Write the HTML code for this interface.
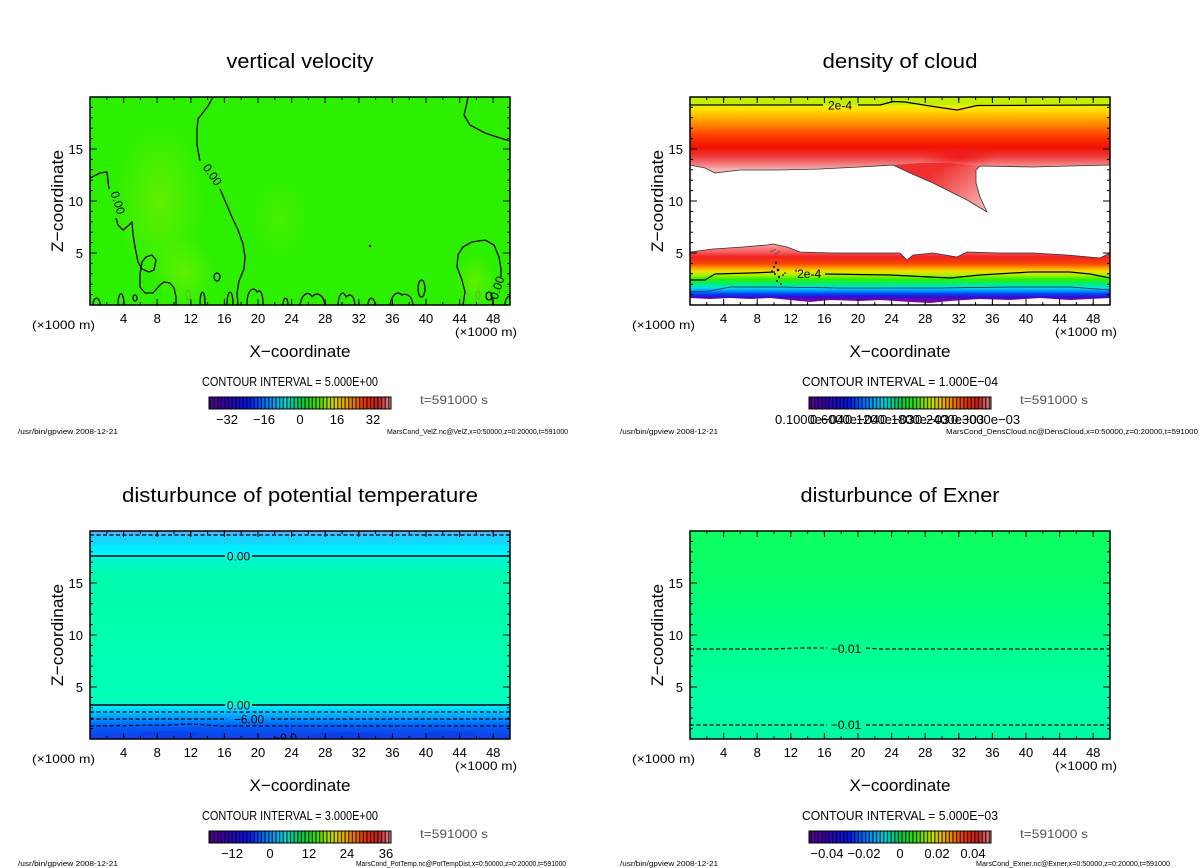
<!DOCTYPE html>
<html><head><meta charset="utf-8"><style>
html,body{margin:0;padding:0;background:#fff;}
svg{display:block;}
svg text{font-family:"Liberation Sans",sans-serif;fill:#000;}
</style></head><body>
<svg width="1200" height="868" viewBox="0 0 1200 868" xmlns="http://www.w3.org/2000/svg" font-family="'Liberation Sans', sans-serif">
<defs>
 <clipPath id="cp"><rect x="0" y="0" width="420" height="208"/></clipPath>
 <linearGradient id="rb" x1="0" y1="0" x2="1" y2="0">
  <stop offset="0" stop-color="#5a0090"/>
  <stop offset="0.1" stop-color="#3000b0"/>
  <stop offset="0.22" stop-color="#0018f0"/>
  <stop offset="0.32" stop-color="#0080ff"/>
  <stop offset="0.42" stop-color="#00d8d8"/>
  <stop offset="0.5" stop-color="#00c850"/>
  <stop offset="0.58" stop-color="#30e000"/>
  <stop offset="0.68" stop-color="#d0e000"/>
  <stop offset="0.76" stop-color="#f0a000"/>
  <stop offset="0.86" stop-color="#e83000"/>
  <stop offset="0.93" stop-color="#c02020"/>
  <stop offset="1" stop-color="#e89090"/>
 </linearGradient>
 <pattern id="st" x="0" y="0" width="3.64" height="20" patternUnits="userSpaceOnUse">
  <rect x="2.3" y="0" width="1.3" height="20" fill="#000" fill-opacity="0.7"/>
 </pattern>
 <radialGradient id="ylw"><stop offset="0" stop-color="#88f000" stop-opacity="0.55"/><stop offset="1" stop-color="#88f000" stop-opacity="0"/></radialGradient>
 <linearGradient id="ctop" gradientUnits="userSpaceOnUse" x1="0" y1="0" x2="0" y2="72">
  <stop offset="0" stop-color="#bef000"/>
  <stop offset="0.105" stop-color="#c4f000"/>
  <stop offset="0.12" stop-color="#f4f000"/>
  <stop offset="0.2" stop-color="#ffd800"/>
  <stop offset="0.36" stop-color="#ff9000"/>
  <stop offset="0.55" stop-color="#ff3800"/>
  <stop offset="0.7" stop-color="#f01000"/>
  <stop offset="0.82" stop-color="#f03838"/>
  <stop offset="0.9" stop-color="#f06868"/>
  <stop offset="0.96" stop-color="#f49090"/>
  <stop offset="1" stop-color="#f8b0b0"/>
 </linearGradient>
 <linearGradient id="tng" gradientUnits="userSpaceOnUse" x1="255" y1="66" x2="295" y2="112">
  <stop offset="0" stop-color="#f03030"/>
  <stop offset="0.5" stop-color="#f47070"/>
  <stop offset="1" stop-color="#f8b8b8"/>
 </linearGradient>
 <radialGradient id="rdip"><stop offset="0" stop-color="#f01010" stop-opacity="0.8"/><stop offset="1" stop-color="#f01010" stop-opacity="0"/></radialGradient>
 <linearGradient id="clow" gradientUnits="userSpaceOnUse" x1="0" y1="148" x2="0" y2="205">
  <stop offset="0" stop-color="#f89898"/>
  <stop offset="0.12" stop-color="#f86060"/>
  <stop offset="0.21" stop-color="#f02020"/>
  <stop offset="0.33" stop-color="#f84800"/>
  <stop offset="0.4" stop-color="#ff9800"/>
  <stop offset="0.46" stop-color="#f0e000"/>
  <stop offset="0.53" stop-color="#a8f000"/>
  <stop offset="0.6" stop-color="#30f000"/>
  <stop offset="0.68" stop-color="#00f070"/>
  <stop offset="0.75" stop-color="#00e0e0"/>
  <stop offset="0.81" stop-color="#0090ff"/>
  <stop offset="0.86" stop-color="#0040f0"/>
  <stop offset="0.91" stop-color="#3010d0"/>
  <stop offset="0.96" stop-color="#7000b0"/>
  <stop offset="1" stop-color="#8000b0"/>
 </linearGradient>
 <linearGradient id="pt" gradientUnits="userSpaceOnUse" x1="0" y1="0" x2="0" y2="208">
  <stop offset="0" stop-color="#48b8ff"/>
  <stop offset="0.02" stop-color="#48b8ff"/>
  <stop offset="0.025" stop-color="#20d0ff"/>
  <stop offset="0.06" stop-color="#10d8ff"/>
  <stop offset="0.07" stop-color="#00ecff"/>
  <stop offset="0.118" stop-color="#00f4ff"/>
  <stop offset="0.122" stop-color="#00f6d8"/>
  <stop offset="0.2" stop-color="#00fcb0"/>
  <stop offset="0.4" stop-color="#00ffac"/>
  <stop offset="0.82" stop-color="#00ffb8"/>
  <stop offset="0.835" stop-color="#00f6e0"/>
  <stop offset="0.845" stop-color="#00e8ff"/>
  <stop offset="0.87" stop-color="#00c8ff"/>
  <stop offset="0.9" stop-color="#0098ff"/>
  <stop offset="0.93" stop-color="#0068ff"/>
  <stop offset="0.96" stop-color="#0850f0"/>
  <stop offset="1" stop-color="#1040e8"/>
 </linearGradient>
 <linearGradient id="ex" gradientUnits="userSpaceOnUse" x1="0" y1="0" x2="0" y2="208">
  <stop offset="0" stop-color="#10ff60"/>
  <stop offset="0.2" stop-color="#08ff68"/>
  <stop offset="0.45" stop-color="#00ff84"/>
  <stop offset="0.65" stop-color="#00ff98"/>
  <stop offset="0.85" stop-color="#00ffaa"/>
  <stop offset="1" stop-color="#00f8a0"/>
 </linearGradient>
 <g id="ax" fill="none" stroke="#000">
  <line x1="-0.5" y1="206.5" x2="421" y2="206.5" stroke-width="3" stroke-dasharray="1 15.8"/>
  <line x1="-0.5" y1="205" x2="421" y2="205" stroke-width="6" stroke-dasharray="1 32.6"/>
  <line x1="-0.5" y1="1.5" x2="421" y2="1.5" stroke-width="3" stroke-dasharray="1 15.8"/>
  <line x1="-0.5" y1="3" x2="421" y2="3" stroke-width="6" stroke-dasharray="1 32.6"/>
  <line x1="1.5" y1="208.5" x2="1.5" y2="-1" stroke-width="3" stroke-dasharray="1 9.4"/>
  <line x1="3.5" y1="208.5" x2="3.5" y2="-1" stroke-width="7" stroke-dasharray="1 51"/>
  <line x1="418.5" y1="208.5" x2="418.5" y2="-1" stroke-width="3" stroke-dasharray="1 9.4"/>
  <line x1="416.5" y1="208.5" x2="416.5" y2="-1" stroke-width="7" stroke-dasharray="1 51"/>
  <rect x="0" y="0" width="420" height="208" stroke-width="1.5"/>
 </g>
</defs>

<!-- ============ PANEL 1: vertical velocity ============ -->
<text x="300" y="68" font-size="20" text-anchor="middle" textLength="147" lengthAdjust="spacingAndGlyphs">vertical velocity</text>
<g transform="translate(90,97)">
 <g clip-path="url(#cp)">
  <rect width="420" height="208" fill="#2cf000"/>
  <ellipse cx="70" cy="105" rx="45" ry="80" fill="url(#ylw)"/>
  <ellipse cx="95" cy="175" rx="30" ry="35" fill="url(#ylw)"/>
  <ellipse cx="190" cy="120" rx="30" ry="40" fill="url(#ylw)" opacity="0.5"/>
  <ellipse cx="385" cy="185" rx="20" ry="28" fill="url(#ylw)"/>
  <g fill="none" stroke="#000" stroke-width="1.3" stroke-linejoin="round">
   <path d="M123,0 L118,9 L108,22 L107,33 L107,48 L110,64"/>
   <path d="M130,92 L136,106 L141,118 L148,133 L153,147 L155,160 L154,172 L149,184 L147,196 L148,208"/>
   <path d="M0,81 L10,76 L17,75 L18,84 L19,92"/>
   <path d="M26,121 L28,128 L33,133 L38,129 L42,125 L43,137 L45,150 L48,165 L52,172 L59,175 L64,173 L66,163 L62,158 L56,160 L52,165 L50,177 L50,190 L55,196 L63,196 L70,188 L74,185 L80,186 L84,191 L86,200 L86,208"/>
   <path d="M378,0 L376,10 L374,18 L380,28 L395,36 L410,41 L420,44"/>
   <path d="M373,208 L375,195 L372,183 L367,170 L368,158 L373,150 L382,145 L395,143 L404,148 L409,160 L411,172 L411,180"/>
   <path d="M402,200 L403,208"/>
   <path d="M3,208 C3,199 10,199 10,208"/>
   <path d="M28,208 C28,193 34,193 34,208"/>
   <ellipse cx="45" cy="201" rx="2" ry="3"/>
   <path d="M110,208 C110,191 115,191 115,208"/>
   <ellipse cx="127" cy="180" rx="3" ry="4"/>
   <path d="M137,208 C137,191 143,191 143,208"/>
   <path d="M157,208 C157,190 165,190 167,195 C170,192 173,195 173,208"/>
   <path d="M193,208 C193,199 198,199 198,208"/>
   <path d="M210,208 C212,195 220,194 222,200 C226,195 233,196 235,208"/>
   <path d="M248,208 C249,194 254,194 256,200 C260,196 264,198 265,208"/>
   <path d="M278,208 C278,199 285,199 285,208"/>
   <path d="M300,208 C302,196 308,194 312,198 C316,196 322,198 323,208"/>
   <ellipse cx="331.5" cy="191.5" rx="3.5" ry="8.5"/>
   <path d="M415,208 C415,200 420,198 421,200"/>
   <ellipse cx="399" cy="199" rx="3" ry="4"/>
  </g>
  <ellipse cx="98" cy="198" rx="2" ry="5" fill="none" stroke="#6a3" stroke-width="0.8"/>
  <ellipse cx="388" cy="198" rx="2" ry="4" fill="none" stroke="#6a3" stroke-width="0.8"/>
  <circle cx="280" cy="149" r="1.2" fill="#000"/>
  <text x="0" y="0" font-size="12" text-anchor="middle" transform="translate(119,80) rotate(55)">0.00</text>
  <text x="0" y="0" font-size="12" text-anchor="middle" transform="translate(24,107) rotate(72)">0.00</text>
  <text x="0" y="0" font-size="12" text-anchor="middle" transform="translate(411,192) rotate(-72)">0.00</text>
 </g>
 <use href="#ax"/>
</g>
<g font-size="13" text-anchor="end"><text x="83" y="154">15</text><text x="83" y="206">10</text><text x="83" y="258">5</text></g>
<g font-size="13" text-anchor="middle">
 <text x="123.6" y="323">4</text><text x="157.2" y="323">8</text><text x="190.8" y="323">12</text><text x="224.4" y="323">16</text><text x="258" y="323">20</text><text x="291.6" y="323">24</text><text x="325.2" y="323">28</text><text x="358.8" y="323">32</text><text x="392.4" y="323">36</text><text x="426" y="323">40</text><text x="459.6" y="323">44</text><text x="493.2" y="323">48</text>
</g>
<text x="32" y="329" font-size="12" textLength="63" lengthAdjust="spacingAndGlyphs">(×1000 m)</text>
<text x="455" y="336" font-size="12" textLength="62" lengthAdjust="spacingAndGlyphs">(×1000 m)</text>
<text x="300" y="357" font-size="17" text-anchor="middle" textLength="101" lengthAdjust="spacingAndGlyphs">X−coordinate</text>
<text x="0" y="0" font-size="17" text-anchor="middle" textLength="102" lengthAdjust="spacingAndGlyphs" transform="translate(63,201) rotate(-90)">Z−coordinate</text>
<text x="202" y="386" font-size="13" textLength="176" lengthAdjust="spacingAndGlyphs">CONTOUR INTERVAL = 5.000E+00</text>
<rect x="209" y="397" width="182" height="12" fill="url(#rb)"/>
<rect x="209" y="397" width="182" height="12" fill="url(#st)"/>
<rect x="209" y="397" width="182" height="12" fill="none" stroke="#000" stroke-width="1"/>
<text x="420" y="404" font-size="12" style="fill:#555" textLength="68" lengthAdjust="spacingAndGlyphs">t=591000 s</text>
<g font-size="13" text-anchor="middle"><text x="227" y="424">−32</text><text x="264" y="424">−16</text><text x="300" y="424">0</text><text x="337" y="424">16</text><text x="373" y="424">32</text></g>
<text x="18" y="434" font-size="7" textLength="100" lengthAdjust="spacingAndGlyphs">/usr/bin/gpview  2008-12-21</text>
<text x="387" y="434" font-size="7" textLength="181" lengthAdjust="spacingAndGlyphs">MarsCond_VelZ.nc@VelZ,x=0:50000,z=0:20000,t=591000</text>

<!-- ============ PANEL 2: density of cloud ============ -->
<text x="900" y="68" font-size="20" text-anchor="middle" textLength="155" lengthAdjust="spacingAndGlyphs">density of cloud</text>
<g transform="translate(690,97)">
 <g clip-path="url(#cp)">
  <rect width="420" height="208" fill="#fff"/>
  <path d="M0,0 H420 V68 L380,69 L343,70 L290,69 L286,73 L286,86 L290,100 L297,115 L277,103 L243,86 L220,76 L203,68 L170,70 L130,72 L90,73 L50,73 L25,76 L15,71 L0,68 Z" fill="url(#ctop)"/>
  <path d="M203,68 L220,76 L243,86 L277,103 L297,115 L290,100 L286,86 L286,73 L290,69 L260,66 L230,66 Z" fill="url(#tng)"/>
  <ellipse cx="268" cy="60" rx="38" ry="11" fill="url(#rdip)"/>
  <path d="M0,155 L23,152 L53,150 L77,148 L83,147 L97,150 L110,155 L143,156 L210,156 L217,163 L223,158 L243,156 L267,160 L277,155 L310,156 L343,156 L377,158 L410,161 L420,156 L420,201 L400,202 L380,203 L350,201 L320,203 L290,202 L260,204 L240,206 L220,205 L190,203 L170,204 L140,203 L120,205 L100,203 L80,201 L60,202 L40,201 L20,202 L0,201 Z" fill="url(#clow)"/>
  <g fill="none" stroke="#000" stroke-linejoin="round">
   <path d="M0,8 H133 M168,8 H190 L203,4.5 L215,5 L240,9 L267,13 L287,8.5 L420,8" stroke-width="1.3"/>
   <path d="M0,68 L15,71 L25,76 L50,73 L90,73 L130,72 L170,70 L203,68 L220,76 L243,86 L277,103 L297,115 L290,100 L286,86 L286,73 L290,69 L343,70 L380,69 L420,68" stroke-width="0.8" stroke="#333"/>
   <path d="M0,155 L23,152 L53,150 L77,148 L83,147 L97,150 L110,155 L143,156 L210,156 L217,163 L223,158 L243,156 L267,160 L277,155 L310,156 L343,156 L377,158 L410,161 L420,156" stroke-width="0.8" stroke="#333"/>
   <path d="M0,183 L15,183 L25,177 L60,176 L85,175 M135,177 L200,178 L260,181 L290,178 L340,175 L380,175 L400,177 L420,181" stroke-width="1.3"/>
   <path d="M0,195 L20,194 L40,190 L90,190 L150,191 L250,191 L320,190 L380,190 L420,193" stroke-width="0.8" stroke="#224"/>
  </g>
  <g fill="#000">
   <circle cx="86" cy="166" r="1.2"/><circle cx="84" cy="170" r="1"/><circle cx="88" cy="173" r="1.3"/><circle cx="85" cy="177" r="1"/><circle cx="89" cy="180" r="1.2"/><circle cx="87" cy="184" r="1"/><circle cx="91" cy="187" r="1"/><circle cx="82" cy="174" r="0.9"/><circle cx="93" cy="178" r="0.9"/><circle cx="95" cy="176" r="0.8"/>
  </g>
  <path d="M80,155 L86,152 M84,158 L90,154" stroke="#555" stroke-width="0.8"/>
  <text x="150" y="12.5" font-size="12" text-anchor="middle">2e-4</text>
  <text x="118" y="181" font-size="12" text-anchor="middle">'2e-4</text>
 </g>
 <use href="#ax"/>
</g>
<g font-size="13" text-anchor="end"><text x="683" y="154">15</text><text x="683" y="206">10</text><text x="683" y="258">5</text></g>
<g font-size="13" text-anchor="middle">
 <text x="723.6" y="323">4</text><text x="757.2" y="323">8</text><text x="790.8" y="323">12</text><text x="824.4" y="323">16</text><text x="858" y="323">20</text><text x="891.6" y="323">24</text><text x="925.2" y="323">28</text><text x="958.8" y="323">32</text><text x="992.4" y="323">36</text><text x="1026" y="323">40</text><text x="1059.6" y="323">44</text><text x="1093.2" y="323">48</text>
</g>
<text x="632" y="329" font-size="12" textLength="63" lengthAdjust="spacingAndGlyphs">(×1000 m)</text>
<text x="1055" y="336" font-size="12" textLength="62" lengthAdjust="spacingAndGlyphs">(×1000 m)</text>
<text x="900" y="357" font-size="17" text-anchor="middle" textLength="101" lengthAdjust="spacingAndGlyphs">X−coordinate</text>
<text x="0" y="0" font-size="17" text-anchor="middle" textLength="102" lengthAdjust="spacingAndGlyphs" transform="translate(663,201) rotate(-90)">Z−coordinate</text>
<text x="802" y="386" font-size="13" textLength="196" lengthAdjust="spacingAndGlyphs">CONTOUR INTERVAL = 1.000E−04</text>
<rect x="809" y="397" width="182" height="12" fill="url(#rb)"/>
<rect x="809" y="397" width="182" height="12" fill="url(#st)"/>
<rect x="809" y="397" width="182" height="12" fill="none" stroke="#000" stroke-width="1"/>
<text x="1020" y="404" font-size="12" style="fill:#555" textLength="68" lengthAdjust="spacingAndGlyphs">t=591000 s</text>
<g font-size="13">
 <text x="775" y="424">0.1000e−04</text><text x="810" y="424">0.6000e−04</text><text x="845" y="424">0.1200e−03</text><text x="880" y="424">0.1800e−03</text><text x="915" y="424">0.2400e−03</text><text x="951" y="424">0.3000e−03</text>
</g>
<text x="620" y="434" font-size="7" textLength="98" lengthAdjust="spacingAndGlyphs">/usr/bin/gpview  2008-12-21</text>
<text x="946" y="434" font-size="7" textLength="252" lengthAdjust="spacingAndGlyphs">MarsCond_DensCloud.nc@DensCloud,x=0:50000,z=0:20000,t=591000</text>

<!-- ============ PANEL 3: potential temperature ============ -->
<text x="300" y="502" font-size="20" text-anchor="middle" textLength="356" lengthAdjust="spacingAndGlyphs">disturbunce of potential temperature</text>
<g transform="translate(90,531)">
 <g clip-path="url(#cp)">
  <rect width="420" height="208" fill="url(#pt)"/>
  <ellipse cx="80" cy="203" rx="30" ry="3" fill="#0838e0" opacity="0.5"/>
  <ellipse cx="260" cy="204" rx="40" ry="3" fill="#0838e0" opacity="0.5"/>
  <ellipse cx="360" cy="203" rx="25" ry="3" fill="#0838e0" opacity="0.5"/>
  <g fill="none" stroke="#000" stroke-width="1.2">
   <path d="M0,4 H420" stroke-dasharray="4 2.5"/>
   <path d="M0,25 H135 M162,25 H420" stroke-width="1.4"/>
   <path d="M0,174 H135 M162,174 H420" stroke-width="1.4"/>
   <path d="M0,181 H420" stroke-dasharray="4 2.5"/>
   <path d="M0,188 H137 M181,188 H420" stroke-dasharray="4 2.5"/>
   <path d="M0,195 L80,194 L100,193 L130,195 L420,195" stroke-dasharray="4 2.5"/>
  </g>
  <text x="148.5" y="29.5" font-size="12" text-anchor="middle">0.00</text>
  <text x="148.5" y="178.5" font-size="12" text-anchor="middle">0.00</text>
  <text x="159" y="192.5" font-size="12" text-anchor="middle">−6.00</text>
  <text x="195" y="211" font-size="12" text-anchor="middle">−9.0</text>
 </g>
 <use href="#ax"/>
</g>
<g font-size="13" text-anchor="end"><text x="83" y="588">15</text><text x="83" y="640">10</text><text x="83" y="692">5</text></g>
<g font-size="13" text-anchor="middle">
 <text x="123.6" y="757">4</text><text x="157.2" y="757">8</text><text x="190.8" y="757">12</text><text x="224.4" y="757">16</text><text x="258" y="757">20</text><text x="291.6" y="757">24</text><text x="325.2" y="757">28</text><text x="358.8" y="757">32</text><text x="392.4" y="757">36</text><text x="426" y="757">40</text><text x="459.6" y="757">44</text><text x="493.2" y="757">48</text>
</g>
<text x="32" y="763" font-size="12" textLength="63" lengthAdjust="spacingAndGlyphs">(×1000 m)</text>
<text x="455" y="770" font-size="12" textLength="62" lengthAdjust="spacingAndGlyphs">(×1000 m)</text>
<text x="300" y="791" font-size="17" text-anchor="middle" textLength="101" lengthAdjust="spacingAndGlyphs">X−coordinate</text>
<text x="0" y="0" font-size="17" text-anchor="middle" textLength="102" lengthAdjust="spacingAndGlyphs" transform="translate(63,635) rotate(-90)">Z−coordinate</text>
<text x="202" y="820" font-size="13" textLength="176" lengthAdjust="spacingAndGlyphs">CONTOUR INTERVAL = 3.000E+00</text>
<rect x="209" y="831" width="182" height="12" fill="url(#rb)"/>
<rect x="209" y="831" width="182" height="12" fill="url(#st)"/>
<rect x="209" y="831" width="182" height="12" fill="none" stroke="#000" stroke-width="1"/>
<text x="420" y="838" font-size="12" style="fill:#555" textLength="68" lengthAdjust="spacingAndGlyphs">t=591000 s</text>
<g font-size="13" text-anchor="middle"><text x="232" y="858">−12</text><text x="270" y="858">0</text><text x="309" y="858">12</text><text x="347" y="858">24</text><text x="386" y="858">36</text></g>
<text x="18" y="866" font-size="7" textLength="100" lengthAdjust="spacingAndGlyphs">/usr/bin/gpview  2008-12-21</text>
<text x="356" y="866" font-size="7" textLength="210" lengthAdjust="spacingAndGlyphs">MarsCond_PotTemp.nc@PotTempDist,x=0:50000,z=0:20000,t=591000</text>

<!-- ============ PANEL 4: Exner ============ -->
<text x="900" y="502" font-size="20" text-anchor="middle" textLength="199" lengthAdjust="spacingAndGlyphs">disturbunce of Exner</text>
<g transform="translate(690,531)">
 <g clip-path="url(#cp)">
  <rect width="420" height="208" fill="url(#ex)"/>
  <g fill="none" stroke="#000" stroke-width="1.2" stroke-dasharray="4 2.5">
   <path d="M0,118 L80,118 L110,117 L137,117 M176,117 L190,118 L420,118"/>
   <path d="M0,194 L137,194 M176,194 L420,194"/>
  </g>
  <text x="156" y="122" font-size="12" text-anchor="middle">−0.01</text>
  <text x="156" y="198" font-size="12" text-anchor="middle">−0.01</text>
 </g>
 <use href="#ax"/>
</g>
<g font-size="13" text-anchor="end"><text x="683" y="588">15</text><text x="683" y="640">10</text><text x="683" y="692">5</text></g>
<g font-size="13" text-anchor="middle">
 <text x="723.6" y="757">4</text><text x="757.2" y="757">8</text><text x="790.8" y="757">12</text><text x="824.4" y="757">16</text><text x="858" y="757">20</text><text x="891.6" y="757">24</text><text x="925.2" y="757">28</text><text x="958.8" y="757">32</text><text x="992.4" y="757">36</text><text x="1026" y="757">40</text><text x="1059.6" y="757">44</text><text x="1093.2" y="757">48</text>
</g>
<text x="632" y="763" font-size="12" textLength="63" lengthAdjust="spacingAndGlyphs">(×1000 m)</text>
<text x="1055" y="770" font-size="12" textLength="62" lengthAdjust="spacingAndGlyphs">(×1000 m)</text>
<text x="900" y="791" font-size="17" text-anchor="middle" textLength="101" lengthAdjust="spacingAndGlyphs">X−coordinate</text>
<text x="0" y="0" font-size="17" text-anchor="middle" textLength="102" lengthAdjust="spacingAndGlyphs" transform="translate(663,635) rotate(-90)">Z−coordinate</text>
<text x="802" y="820" font-size="13" textLength="196" lengthAdjust="spacingAndGlyphs">CONTOUR INTERVAL = 5.000E−03</text>
<rect x="809" y="831" width="182" height="12" fill="url(#rb)"/>
<rect x="809" y="831" width="182" height="12" fill="url(#st)"/>
<rect x="809" y="831" width="182" height="12" fill="none" stroke="#000" stroke-width="1"/>
<text x="1020" y="838" font-size="12" style="fill:#555" textLength="68" lengthAdjust="spacingAndGlyphs">t=591000 s</text>
<g font-size="13" text-anchor="middle"><text x="827" y="858">−0.04</text><text x="864" y="858">−0.02</text><text x="900" y="858">0</text><text x="937" y="858">0.02</text><text x="973" y="858">0.04</text></g>
<text x="620" y="866" font-size="7" textLength="98" lengthAdjust="spacingAndGlyphs">/usr/bin/gpview  2008-12-21</text>
<text x="976" y="866" font-size="7" textLength="194" lengthAdjust="spacingAndGlyphs">MarsCond_Exner.nc@Exner,x=0:50000,z=0:20000,t=591000</text>
</svg>
</body></html>
